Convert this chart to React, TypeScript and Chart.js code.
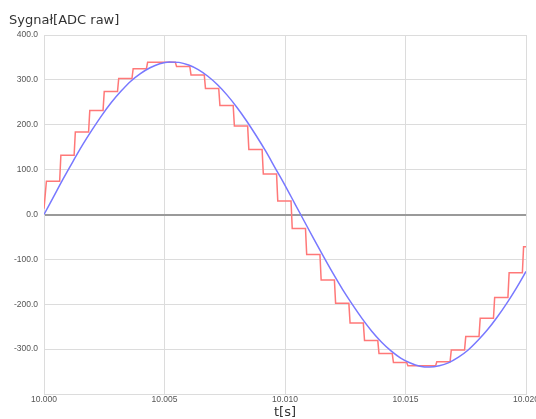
import React, { useEffect, useRef } from "react";
import { Chart, registerables } from "chart.js";

Chart.register(...registerables);

const CHART_TITLE = "Sygnał[ADC raw]";
const X_TITLE = "t[s]";
const X_MIN = 10.0;
const X_MAX = 10.02;
const X_STEP = 0.005;
const Y_MIN = -400;
const Y_MAX = 400;
const Y_STEP = 100;

// Continuous signal (blue)
const sineTimes = [
  10.0, 10.0004, 10.0008, 10.0012, 10.0016, 10.002, 10.0024, 10.0028, 10.0032, 10.0036,
  10.004, 10.0044, 10.0048, 10.0052, 10.0056, 10.006, 10.0064, 10.0068, 10.0072, 10.0076,
  10.008, 10.0084, 10.0088, 10.0092, 10.0096, 10.01, 10.0104, 10.0108, 10.0112, 10.0116,
  10.012, 10.0124, 10.0128, 10.0132, 10.0136, 10.014, 10.0144, 10.0148, 10.0152, 10.0156,
  10.016, 10.0164, 10.0168, 10.0172, 10.0176, 10.018, 10.0184, 10.0188, 10.0192, 10.0196,
  10.02,
];
const sineValues = [
  0, 40, 80, 118, 155, 189, 221, 250, 275, 297,
  314, 327, 336, 340, 339, 333, 323, 308, 289, 266,
  239, 209, 176, 141, 103, 65, 25, -15, -55, -94,
  -132, -168, -201, -232, -260, -284, -304, -320, -331, -338,
  -340, -337, -330, -318, -302, -281, -257, -229, -198, -164,
  -127,
];

// Sampled / held ADC signal (red)
const adcStartTime = 10.0;
const adcStartValue = 13;
const adcStepTimes = [
  10.0001, 10.0007, 10.0013, 10.0019, 10.0025, 10.0031, 10.0037, 10.0043, 10.0049, 10.0055,
  10.0061, 10.0067, 10.0073, 10.0079, 10.0085, 10.0091, 10.0097, 10.0103, 10.0109, 10.0115,
  10.0121, 10.0127, 10.0133, 10.0139, 10.0145, 10.0151, 10.0157, 10.0163, 10.0169, 10.0175,
  10.0181, 10.0187, 10.0193, 10.0199,
];
const adcStepValues = [
  74, 132, 184, 232, 274, 303, 325, 339, 339, 330,
  311, 281, 243, 197, 145, 90, 30, -31, -89, -146,
  -198, -242, -281, -310, -330, -337, -337, -328, -302, -272,
  -231, -185, -130, -72,
];
const HOLD_GAP = 0.00005;

export default function App() {
  const canvasRef = useRef<HTMLCanvasElement | null>(null);

  useEffect(() => {
    const canvas = canvasRef.current;
    if (!canvas) return;

    const sinePoints = sineTimes.map((t, i) => ({ x: t, y: sineValues[i] }));
    const adcPoints: { x: number; y: number }[] = [{ x: adcStartTime, y: adcStartValue }];
    adcStepTimes.forEach((t, i) => {
      const end = i < adcStepTimes.length - 1 ? adcStepTimes[i + 1] - HOLD_GAP : X_MAX;
      adcPoints.push({ x: t, y: adcStepValues[i] });
      adcPoints.push({ x: end, y: adcStepValues[i] });
    });

    const gridColor = "#dcdcdc";
    const tickFont = { family: "'Liberation Sans', Arial, sans-serif", size: 8.5 };

    const chart = new Chart(canvas, {
      type: "line",
      data: {
        datasets: [
          {
            label: "sine",
            data: sinePoints,
            borderColor: "rgb(120,120,255)",
            borderWidth: 1.5,
            pointRadius: 0,
            cubicInterpolationMode: "monotone",
            fill: false,
          },
          {
            label: "adc",
            data: adcPoints,
            borderColor: "rgb(255,120,120)",
            borderWidth: 1.5,
            pointRadius: 0,
            tension: 0,
            fill: false,
          },
        ],
      },
      options: {
        animation: false,
        responsive: false,
        events: [],
        layout: { padding: { left: 9, right: 10, top: 0, bottom: 0 } },
        plugins: {
          legend: { display: false },
          tooltip: { enabled: false },
          title: {
            display: true,
            text: CHART_TITLE,
            align: "start",
            color: "#333",
            font: { family: "'DejaVu Sans', sans-serif", size: 13, weight: "normal" },
            padding: { top: 12.5, bottom: 6.9 },
          },
        },
        scales: {
          x: {
            type: "linear",
            min: X_MIN,
            max: X_MAX,
            ticks: {
              stepSize: X_STEP,
              autoSkip: false,
              maxRotation: 0,
              padding: 1,
              color: "#555",
              font: tickFont,
              callback: (v: any) => Number(v).toFixed(3),
            },
            grid: { color: gridColor, drawTicks: false },
            border: { color: gridColor },
            title: {
              display: true,
              text: X_TITLE,
              color: "#333",
              font: { family: "'DejaVu Sans', sans-serif", size: 13, lineHeight: 1 },
              padding: 0,
            },
            afterFit: (s: any) => {
              s.height = 25;
              s.paddingLeft = 0;
              s.paddingRight = 0;
            },
          },
          y: {
            type: "linear",
            min: Y_MIN,
            max: Y_MAX,
            ticks: {
              stepSize: Y_STEP,
              padding: 6,
              color: "#555",
              font: tickFont,
              callback: (v: any) => (Number(v) === Y_MIN ? "" : Number(v).toFixed(1)),
            },
            grid: {
              drawTicks: false,
              color: (ctx: any) => (ctx.tick && ctx.tick.value === 0 ? "#9a9a9a" : gridColor),
              lineWidth: (ctx: any) => (ctx.tick && ctx.tick.value === 0 ? 2 : 1),
            },
            border: { color: gridColor },
            afterFit: (s: any) => {
              s.width = 35;
            },
          },
        },
      },
    } as any);

    return () => chart.destroy();
  }, []);

  return (
    <div style={{ position: "absolute", left: 0, top: 0, width: 536, height: 419, background: "#fff" }}>
      <canvas ref={canvasRef} width={536} height={419} style={{ display: "block" }} />
    </div>
  );
}
